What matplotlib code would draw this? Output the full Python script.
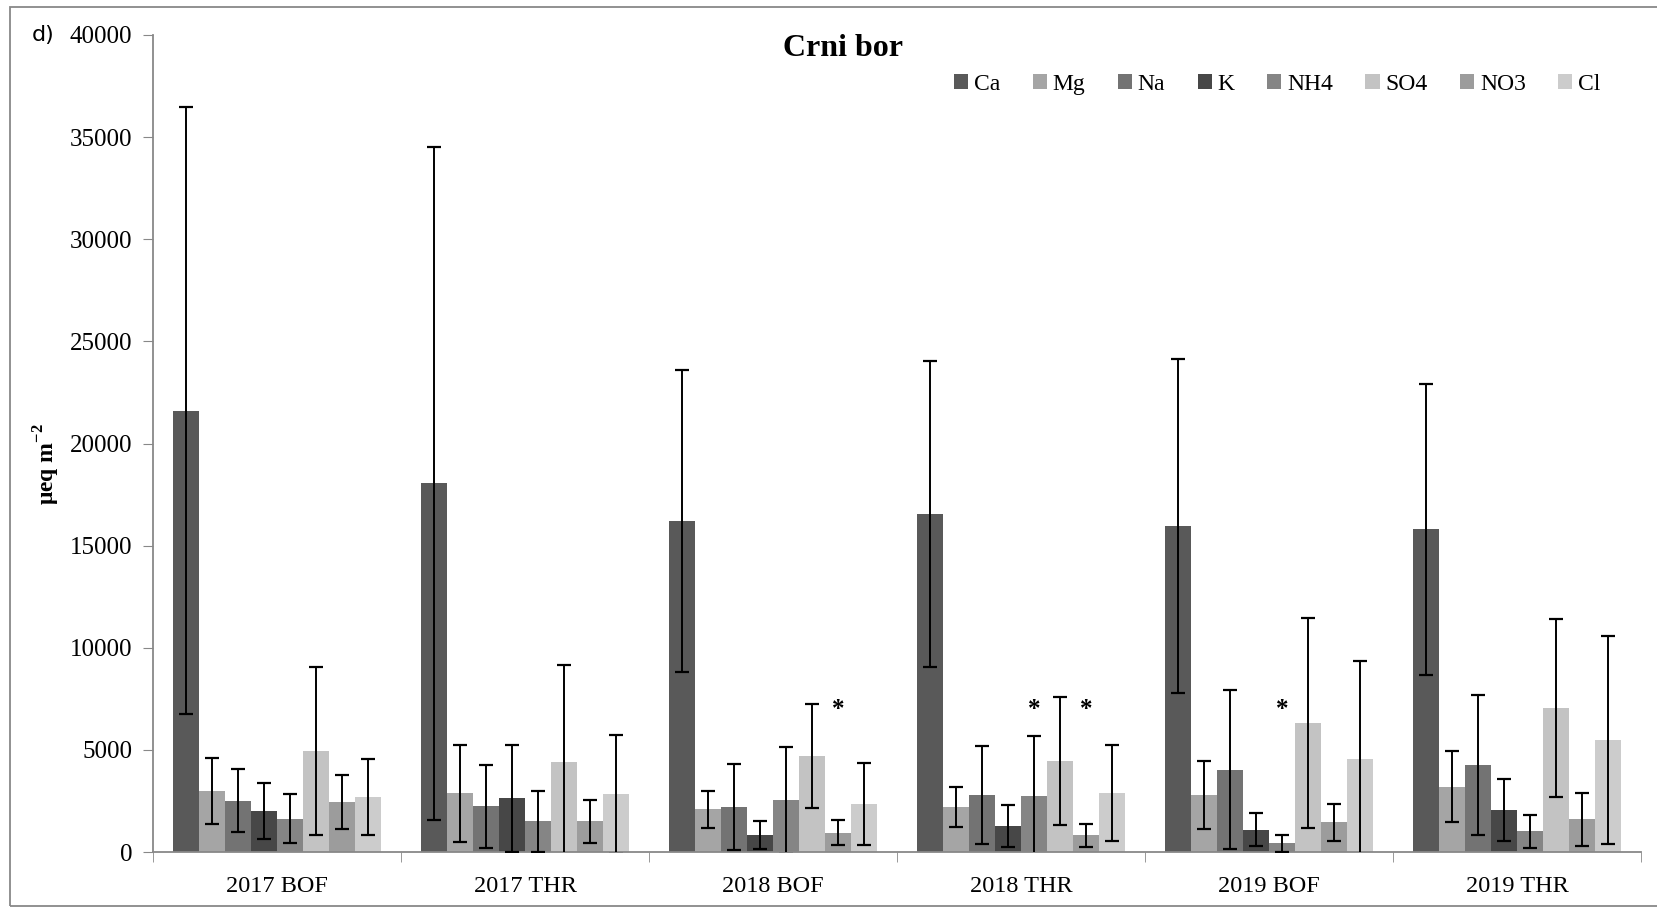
import matplotlib
matplotlib.use("Agg")
import matplotlib.pyplot as plt
import numpy as np
from matplotlib.patches import Rectangle

plt.rcParams['font.family'] = ['Liberation Serif', 'DejaVu Serif']
plt.rcParams['mathtext.fontset'] = 'custom'
plt.rcParams['mathtext.rm'] = 'Liberation Serif'
plt.rcParams['mathtext.bf'] = 'Liberation Serif:bold'

groups = ['2017 BOF', '2017 THR', '2018 BOF', '2018 THR', '2019 BOF', '2019 THR']
ions = ['Ca', 'Mg', 'Na', 'K', 'NH4', 'SO4', 'NO3', 'Cl']

ca = [21600, 18050, 16200, 16550, 15950, 15800]
ca_err = [14860, 16470, 7400, 7480, 8170, 7120]
mg = [2990, 2870, 2090, 2190, 2790, 3200]
mg_err = [1620, 2360, 910, 990, 1660, 1730]
na = [2510, 2250, 2220, 2790, 4030, 4280]
na_err = [1550, 2030, 2100, 2380, 3900, 3430]
k = [1990, 2640, 850, 1270, 1080, 2040]
k_err = [1370, 2620, 680, 1040, 810, 1510]
nh4 = [1630, 1500, 2530, 2740, 420, 1010]
nh4_err = [1190, 1500, 2610, 2930, 420, 800]
so4 = [4950, 4420, 4720, 4460, 6320, 7050]
so4_err = [4110, 4750, 2550, 3130, 5130, 4340]
no3 = [2450, 1500, 950, 820, 1450, 1600]
no3_err = [1300, 1060, 600, 560, 890, 1300]
cl = [2690, 2820, 2350, 2890, 4570, 5470]
cl_err = [1840, 2900, 1990, 2350, 4770, 5100]

# significant differences marked with *: (group index, ion index)
stars = [(2, 6), (3, 4), (3, 6), (4, 4)]
star_y = 7000

values = [ca, mg, na, k, nh4, so4, no3, cl]
errors = [ca_err, mg_err, na_err, k_err, nh4_err, so4_err, no3_err, cl_err]
colors = ['#595959', '#a5a5a5', '#737373', '#474747', '#858585', '#c3c3c3', '#9c9c9c', '#cccccc']

fig = plt.figure(figsize=(16.58, 9.09), dpi=100)
ax = fig.add_axes([0.0923, 0.0627, 0.8974, 0.8988])

x = np.arange(len(groups))
w = 0.105
for i in range(len(ions)):
    pos = x + (i - 3.5) * w
    ax.bar(pos, values[i], w, color=colors[i], label=ions[i], zorder=2)
    ax.errorbar(pos, values[i], yerr=errors[i], fmt='none', ecolor='black',
                elinewidth=1.4, capsize=5, capthick=1.6, zorder=3)

for g, i in stars:
    ax.text(x[g] + (i - 3.5) * w, star_y, '*', ha='center', va='center',
            fontsize=18, fontweight='bold')

ax.set_xlim(-0.5, 5.5)
ax.set_ylim(0, 40000)
ax.set_yticks(np.arange(0, 40001, 5000))
ax.set_xticks(x)
ax.set_xticklabels(groups)
ax.set_xticks(np.arange(-0.5, 6, 1), minor=True)
ax.tick_params(axis='x', which='major', length=0, pad=17, labelsize=17.5)
ax.tick_params(axis='x', which='minor', length=7, color='#888888', direction='out')
ax.tick_params(axis='y', length=7, color='#888888', pad=8, labelsize=18)

for s in ['top', 'right']:
    ax.spines[s].set_visible(False)
for s in ['left', 'bottom']:
    ax.spines[s].set_color('#888888')
    ax.spines[s].set_linewidth(1.3)

ax.text(0.4637, 0.983, 'Crni bor', transform=ax.transAxes, fontsize=23, fontweight='bold',
        ha='center', va='center')
ax.legend(ncol=8, loc='center right', bbox_to_anchor=(0.973, 0.94), frameon=False,
          fontsize=17, handlelength=0.6, handleheight=0.6, handletextpad=0.25,
          columnspacing=1.37, borderaxespad=0, borderpad=0)

fig.text(0.028, 0.49, r'μeq m$^{\mathbf{-2}}$', rotation=90, ha='center', va='center',
         fontsize=17, fontweight='bold')
fig.text(0.019, 0.962, 'd)', fontsize=16, family='DejaVu Sans', ha='left', va='center')

fig.patches.append(Rectangle((10 / 1658, 3 / 909), 1.1, 1 - 10 / 909, transform=fig.transFigure,
                             fill=False, edgecolor='#888888', linewidth=1.3))

fig.savefig('out.png', dpi=100)
